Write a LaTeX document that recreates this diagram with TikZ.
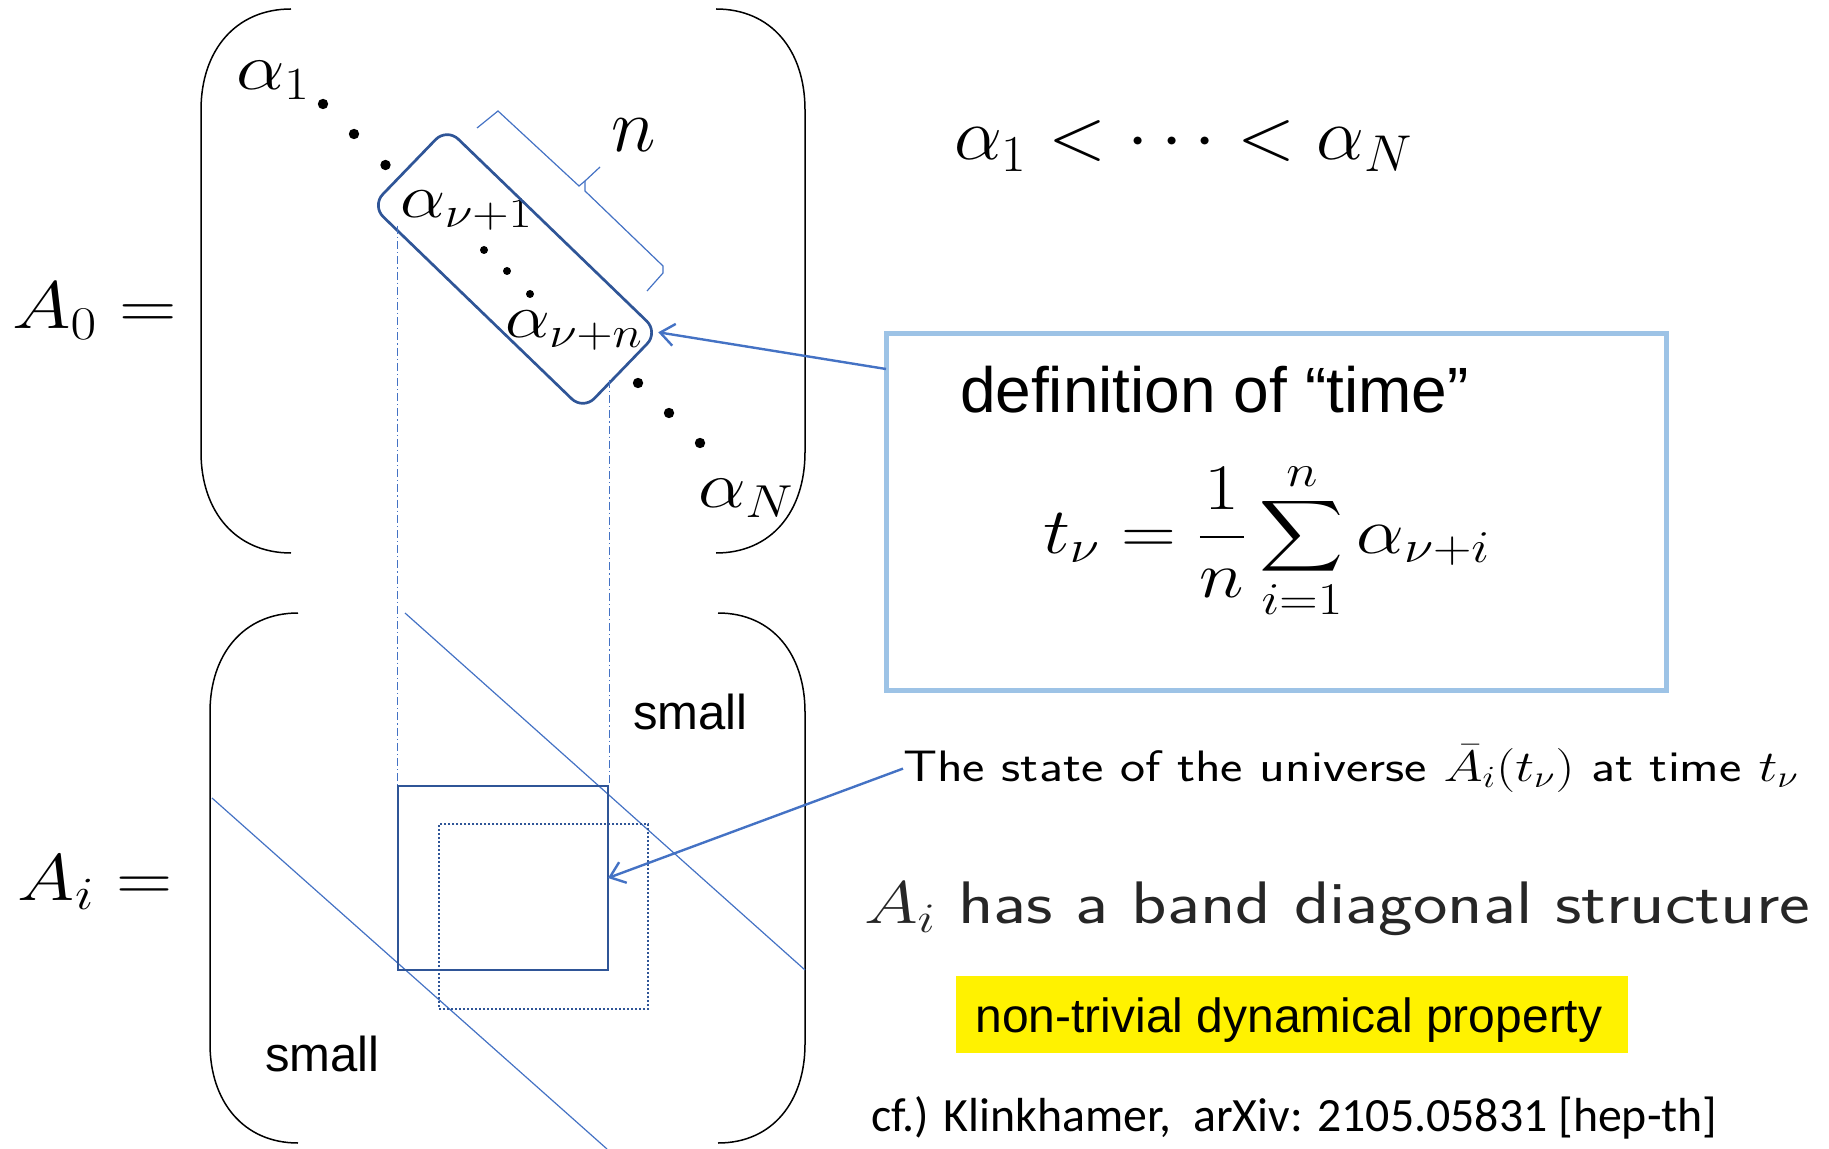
\RequirePackage{fix-cm}
\documentclass[tikz,border=0pt]{standalone}
\usepackage{amsmath}
\usepackage{fontspec}
\usepackage{graphicx}
\usetikzlibrary{arrows.meta}
\newfontfamily\arialf{Liberation Sans}
\newfontfamily\calibf{Carlito}
\definecolor{boxblue}{HTML}{2F5597}
\definecolor{lineblue}{HTML}{4472C4}
\definecolor{defblue}{HTML}{9DC3E6}
\definecolor{txtgray}{HTML}{262626}
\newcommand{\stx}[2]{\scalebox{#1}[1]{#2}}
\begin{document}
\begin{tikzpicture}[x=0.5pt,y=-0.5pt,
  every node/.style={inner sep=0pt, outer sep=0pt},
  lbl/.style={anchor=base west},
  paren/.style={line width=0.75pt, black},
  thinblue/.style={lineblue, line width=0.6pt},
  dashdotblue/.style={lineblue, line width=0.5pt, dash pattern=on 4pt off 1.5pt on 0.6pt off 1.5pt},
  arrowblue/.style={lineblue, line width=1.2pt, -{Straight Barb[length=7pt,width=11pt]}},
  dotbig/.style={black},
]
\useasboundingbox (0,0) rectangle (1829,1149);

% ---------- top matrix A0 ----------
\draw[paren] (291,9) .. controls (236,9) and (201,50) .. (201,110) -- (201,452) .. controls (201,512) and (236,553) .. (291,553);
\draw[paren] (716,9) .. controls (771,9) and (805,50) .. (805,110) -- (805,452) .. controls (805,512) and (771,553) .. (716,553);

\node[lbl] (A0) at (12,329) {\fontsize{33.5}{40}\selectfont\stx{1.19}{$A_0 =$}};
\node[lbl] (a1) at (236,90) {\fontsize{33}{40}\selectfont\stx{1.17}{$\alpha_1$}};
\node[lbl] (anu1) at (400,218) {\fontsize{31}{38}\selectfont\stx{1.16}{$\alpha_{\nu+1}$}};
\node[lbl] (anun) at (505,338) {\fontsize{31}{38}\selectfont\stx{1.15}{$\alpha_{\nu+n}$}};
\node[lbl] (aN) at (698,508) {\fontsize{33}{40}\selectfont\stx{1.15}{$\alpha_N$}};
\node[lbl] (nlbl) at (611,152) {\fontsize{38}{44}\selectfont$n$};

\fill[dotbig] (323,104) circle[radius=2.6pt];
\fill[dotbig] (354,134) circle[radius=2.6pt];
\fill[dotbig] (385.5,165) circle[radius=2.6pt];
\fill[dotbig] (484,250) circle[radius=2pt];
\fill[dotbig] (507,271) circle[radius=2pt];
\fill[dotbig] (530,294) circle[radius=2pt];
\fill[dotbig] (638,383) circle[radius=2.6pt];
\fill[dotbig] (669,413) circle[radius=2.6pt];
\fill[dotbig] (700,443) circle[radius=2.6pt];

\node[draw=boxblue, line width=1.35pt, rounded corners=8pt, minimum width=147pt, minimum height=54pt, rotate=-44] (grp) at (515,269) {};

% brace n
\draw[thinblue] (477,128) -- (498,111) -- (579,186) -- (585,181) -- (600,167);
\draw[thinblue] (585,181) -- (585,191) -- (663,266) -- (663,273) -- (647,291);

% ---------- bottom matrix Ai ----------
\draw[paren] (298,613) .. controls (243,613) and (210,655) .. (210,712) -- (210,1044) .. controls (210,1101) and (243,1143) .. (298,1143);
\draw[paren] (718,613) .. controls (773,613) and (805,655) .. (805,712) -- (805,1044) .. controls (805,1101) and (773,1143) .. (718,1143);

\node[lbl] (Ai) at (18,900) {\fontsize{33}{40}\selectfont\stx{1.18}{$A_i =$}};

\draw[thinblue] (405,613) -- (805,970);
\draw[thinblue] (212,798) -- (607,1149);

\node[draw=boxblue, line width=1.35pt, minimum width=105pt, minimum height=92pt] (sq) at (503,878) {};
\node[draw=boxblue, line width=1pt, dash pattern=on 1pt off 1pt, minimum width=104.5pt, minimum height=92.5pt] (sqd) at (543.5,916.5) {};

\node[lbl] (small1) at (633,729) {\fontsize{24.5}{29}\selectfont\arialf small};
\node[lbl] (small2) at (265,1071) {\fontsize{24.5}{29}\selectfont\arialf small};

% dash-dot projections
\coordinate (ddl) at (397,226);
\coordinate (ddr) at (609,380);
\draw[dashdotblue] (ddl) -- (ddl |- sq.north);
\draw[dashdotblue] (ddr) -- (ddr |- sq.north);

% ---------- right side ----------
\node[lbl] (order) at (954,160) {\fontsize{37}{44}\selectfont\stx{1.03}{$\alpha_1<\cdots<\alpha_N$}};

\node[draw=defblue, line width=2.5pt, minimum width=390pt, minimum height=178pt] (def) at (1276,512) {};
\node[lbl] (defttl) at (960,413) {\fontsize{32}{38}\selectfont\arialf definition of “time”};
\node[lbl] (formula) at (1043,553) {\fontsize{32.5}{39}\selectfont\stx{1.17}{$\displaystyle t_\nu=\frac{1}{n}\sum_{i=1}^{n}\alpha_{\nu+i}$}};

\node[lbl] (state) at (903,781) {\fontsize{22}{26}\selectfont\stx{1.21}{\sffamily The state of the universe $\bar{A}_i(t_\nu)$ at time $t_\nu$}};

\node[lbl, text=txtgray] (band) at (864,923) {\fontsize{30}{36}\selectfont\stx{1.22}{$A_i$ \sffamily has a band diagonal structure}};

\node[fill=yellow, minimum width=336pt, minimum height=38.5pt] (yl) at (1292,1014.5) {};
\node[anchor=base] (ntext) at (1289,1032) {\fontsize{24}{29}\selectfont\arialf non-trivial dynamical property};

\node[lbl] (cf) at (871,1131) {\fontsize{23.9}{28}\selectfont\calibf cf.) Klinkhamer,\ \ arXiv: 2105.05831 [hep-th]};

% ---------- connectors ----------
\coordinate (defa) at (886,369);
\draw[arrowblue] (defa) -- (grp.north east);
\draw[arrowblue] (state.west) -- (sq.east);
\end{tikzpicture}
\end{document}
